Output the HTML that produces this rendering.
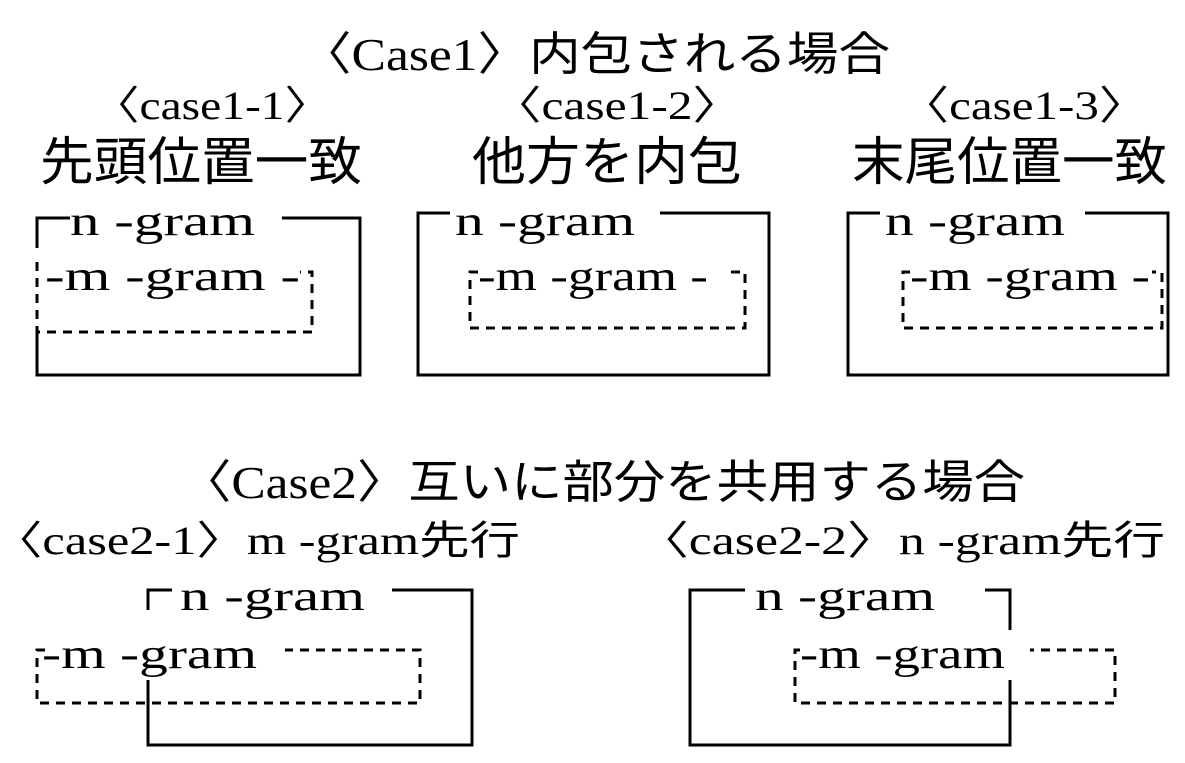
<!DOCTYPE html>
<html><head><meta charset="utf-8"><style>
html,body{margin:0;padding:0;background:#fff;}
svg text{font-family:"Liberation Serif","Noto Sans CJK JP",serif;fill:#000;}
</style></head><body>
<svg width="1185" height="758" viewBox="0 0 1185 758" xmlns="http://www.w3.org/2000/svg">
<g font-size="46">
<text x="300" y="70" textLength="590" lengthAdjust="spacingAndGlyphs">〈Case1〉内包される場合</text>
<text x="180" y="498" textLength="845" lengthAdjust="spacingAndGlyphs">〈Case2〉互いに部分を共用する場合</text>
</g>
<g font-size="40">
<text x="92" y="119" textLength="240" lengthAdjust="spacingAndGlyphs">〈case1-1〉</text>
<text x="492" y="119" textLength="250" lengthAdjust="spacingAndGlyphs">〈case1-2〉</text>
<text x="900" y="119" textLength="248" lengthAdjust="spacingAndGlyphs">〈case1-3〉</text>
<text x="-8" y="554" textLength="528" lengthAdjust="spacingAndGlyphs">〈case2-1〉m -gram先行</text>
<text x="637" y="554" textLength="528" lengthAdjust="spacingAndGlyphs">〈case2-2〉n -gram先行</text>
</g>
<g font-size="52">
<text x="40" y="180" textLength="322" lengthAdjust="spacingAndGlyphs">先頭位置一致</text>
<text x="472" y="180" textLength="270" lengthAdjust="spacingAndGlyphs">他方を内包</text>
<text x="852" y="180" textLength="315" lengthAdjust="spacingAndGlyphs">末尾位置一致</text>
</g>
<g font-size="42">
<text x="70" y="235" textLength="185" lengthAdjust="spacingAndGlyphs">n -gram</text>
<text x="45" y="290" textLength="255" lengthAdjust="spacingAndGlyphs">-m -gram -</text>
<text x="455" y="235" textLength="180" lengthAdjust="spacingAndGlyphs">n -gram</text>
<text x="478" y="290" textLength="230" lengthAdjust="spacingAndGlyphs">-m -gram -</text>
<text x="885" y="235" textLength="180" lengthAdjust="spacingAndGlyphs">n -gram</text>
<text x="910" y="290" textLength="240" lengthAdjust="spacingAndGlyphs">-m -gram -</text>
<text x="180" y="610" textLength="185" lengthAdjust="spacingAndGlyphs">n -gram</text>
<text x="42" y="668" textLength="215" lengthAdjust="spacingAndGlyphs">-m -gram</text>
<text x="755" y="610" textLength="180" lengthAdjust="spacingAndGlyphs">n -gram</text>
<text x="800" y="668" textLength="205" lengthAdjust="spacingAndGlyphs">-m -gram</text>
</g>
<g fill="none" stroke="#000" stroke-width="3">
<path d="M70 218 H37 V248 M37 332 V375 H360 V218 H282"/>
<path d="M450 213 H418 V375 H769 V213 H660"/>
<path d="M880 213 H848 V375 H1168 V213 H1085"/>
<path d="M172 590 H148 V610 M148 680 V745 H472 V590 H392"/>
<path d="M745 590 H690 V745 H1010 V680 M1010 630 V590 H985"/>
</g>
<g fill="none" stroke="#000" stroke-width="3" stroke-dasharray="9 7">
<path d="M37 262 V332 H312 V272 H300"/>
<path d="M478 272 H470 V328 H745 V272 H730"/>
<path d="M910 272 H903 V328 H1162 V272 H1152"/>
<path d="M45 650 H37 V703 H420 V650 H285"/>
<path d="M800 650 H795 V703 H1115 V650 H1030"/>
</g>
</svg>
</body></html>
